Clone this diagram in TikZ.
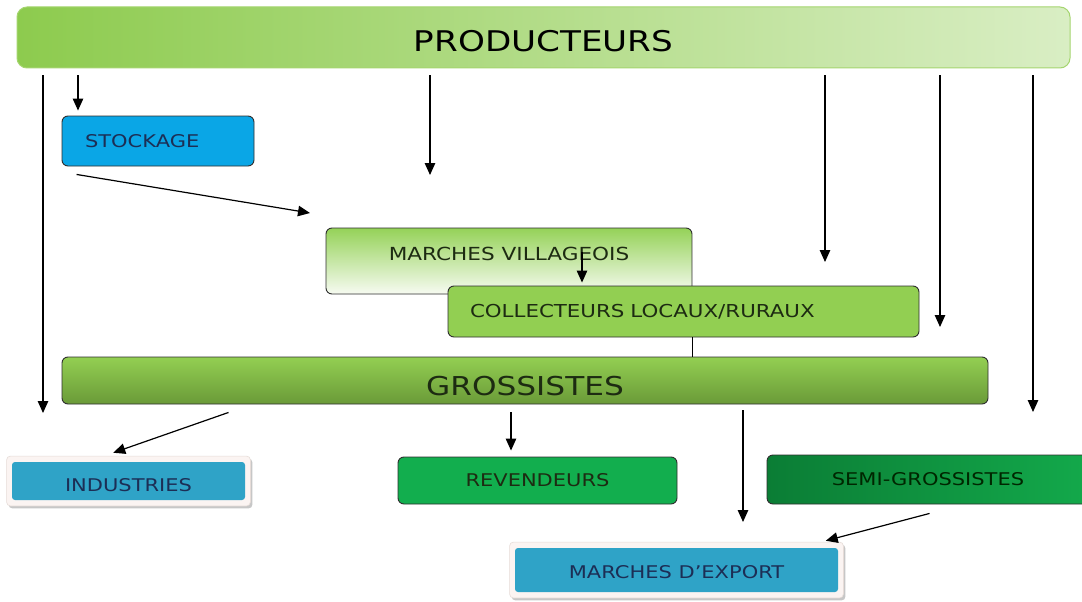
\documentclass[tikz,border=0pt]{standalone}
\usepackage{fontspec}
\newfontfamily\hand[FakeStretch=1.2]{DejaVu Sans}
\usetikzlibrary{arrows.meta,shadows,fit,backgrounds,calc}
\definecolor{prodL}{HTML}{8DCB4E}
\definecolor{prodR}{HTML}{D9EEC4}
\definecolor{prodline}{HTML}{A5D56F}
\definecolor{stockB}{HTML}{0AA6E6}
\definecolor{mvTop}{HTML}{95D258}
\definecolor{mvBot}{HTML}{F7FBF2}
\definecolor{collG}{HTML}{92CF52}
\definecolor{grosTop}{HTML}{93CF52}
\definecolor{grosBot}{HTML}{6A9A38}
\definecolor{revG}{HTML}{12AE4E}
\definecolor{semiL}{HTML}{0B7D35}
\definecolor{semiR}{HTML}{13A94B}
\definecolor{expB}{HTML}{2FA3C7}
\definecolor{framefill}{HTML}{FBF4F2}
\definecolor{framedraw}{HTML}{E6DCD8}
\definecolor{dkline}{HTML}{2E2E2E}
\definecolor{navy}{HTML}{1C2E55}
\definecolor{dkgreen}{HTML}{1D2B12}
\tikzset{
  bx/.style={rectangle, rounded corners=6pt, line width=0.9pt, inner sep=0pt, align=center},
  arr/.style={line width=1.2pt, -{Triangle[length=12pt,width=10.5pt]}},
  conn/.style={line width=1.1pt},
  frame/.style={fill=framefill, draw=framedraw, line width=0.6pt, rounded corners=4pt,
    inner xsep=5pt, inner ysep=5.5pt,
    drop shadow={shadow xshift=2pt, shadow yshift=-2.5pt, fill=gray!55, opacity=0.8}},
}
\begin{document}
\begin{tikzpicture}[x=1pt,y=-1pt]
\path[use as bounding box] (0,0) rectangle (1082,602);

% nodes
\node[bx, draw=prodline, line width=1pt, left color=prodL, right color=prodR,
  minimum width=1053pt, minimum height=61pt, rounded corners=10pt,
  font=\hand\fontsize{28.5}{34}\selectfont, text=black, text height=27.8pt, text depth=0pt] (prod) at (543.5,37.5) {PRODUCTEURS};

\node[bx, draw=dkline, fill=stockB, minimum width=192pt, minimum height=50pt,
  text width=146pt, inner xsep=23pt, align=left, text=navy,
  font=\hand\fontsize{17.5}{20}\selectfont] (stock) at (158,141) {STOCKAGE};

\node[bx, draw=dkline, top color=mvTop, bottom color=mvBot,
  minimum width=366pt, minimum height=66pt, text depth=15pt, text=dkgreen,
  font=\hand\fontsize{18}{21}\selectfont] (mv) at (509,261) {MARCHES VILLAGEOIS};

\node[bx, draw=dkline, fill=collG, minimum width=471pt, minimum height=51pt, text=dkgreen,
  text width=427pt, inner xsep=22pt, align=left,
  font=\hand\fontsize{17.8}{21}\selectfont] (coll) at (683.5,311.5) {COLLECTEURS LOCAUX/RURAUX};

\node[bx, draw=dkline, top color=grosTop, bottom color=grosBot,
  minimum width=926pt, minimum height=47pt, text=dkgreen,
  font=\hand\fontsize{26}{30}\selectfont, text height=30pt, text depth=0pt] (gros) at (525,380.5) {GROSSISTES};

\node[bx, draw=dkline, fill=revG, minimum width=279pt, minimum height=47pt, text=dkgreen,
  font=\hand\fontsize{17.5}{20}\selectfont] (rev) at (537.5,480.5) {REVENDEURS};

\node[bx, draw=dkline, left color=semiL, right color=semiR,
  minimum width=322pt, minimum height=49pt, text=black!85!green,
  font=\hand\fontsize{17.5}{20}\selectfont] (semi) at (928,479.5) {SEMI-GROSSISTES};

\node[bx, fill=expB, rounded corners=3pt, minimum width=233pt, minimum height=38pt, text=navy,
  font=\hand\fontsize{17.5}{20}\selectfont, text height=20pt, text depth=0pt] (ind) at (128.5,481) {INDUSTRIES};

\node[bx, fill=expB, rounded corners=3pt, minimum width=323pt, minimum height=44pt, text=navy,
  font=\hand\fontsize{17.5}{20}\selectfont, text height=16.5pt, text depth=0pt] (exp) at (676.5,570) {MARCHES D’EXPORT};

\begin{scope}[on background layer]
  \fill[white] (0,0) rectangle (1082,602);
  \node[frame, fit=(ind)] (indframe) {};
  \node[frame, fit=(exp)] (expframe) {};
\end{scope}

% connectors
\coordinate (p1) at (43,413);
\coordinate (p2) at (78,0);
\coordinate (p3) at (430,175);
\coordinate (p5) at (825,262);
\coordinate (p6) at (940,327);
\coordinate (p7) at (1033,412);
\draw[arr, shorten <=7pt] (prod.south -| p1) -- (p1);
\draw[arr, shorten <=7pt, shorten >=5pt] (prod.south -| p2) -- (stock.north -| p2);
\draw[arr, shorten <=7pt] (prod.south -| p3) -- (p3);
\draw[arr, shorten <=7pt] (prod.south -| p5) -- (p5);
\draw[arr, shorten <=7pt] (prod.south -| p6) -- (p6);
\draw[arr, shorten <=7pt] (prod.south -| p7) -- (p7);

\coordinate (s2) at (310,213);
\draw[arr] ($(stock.south west)+(15,8)$) -- (s2);

\coordinate (m1) at (582,252);
\draw[arr, shorten >=3pt] (m1) -- (m1 |- coll.north);

\draw[conn] (coll.south -| mv.east) -- (gros.north -| mv.east);

\draw[arr] ($(gros.south west)+(167,8)$) -- ($(indframe.north west)+(107,-3)$);
\coordinate (r1) at (511,0);
\draw[arr, shorten <=8pt, shorten >=6pt] (gros.south -| r1) -- (rev.north -| r1);
\coordinate (g3) at (743,522);
\draw[arr, shorten <=6pt] (gros.south -| g3) -- (g3);
\draw[arr] ($(semi.south west)+(163,9)$) -- ($(expframe.north east)+(-18,-1)$);
\end{tikzpicture}
\end{document}
